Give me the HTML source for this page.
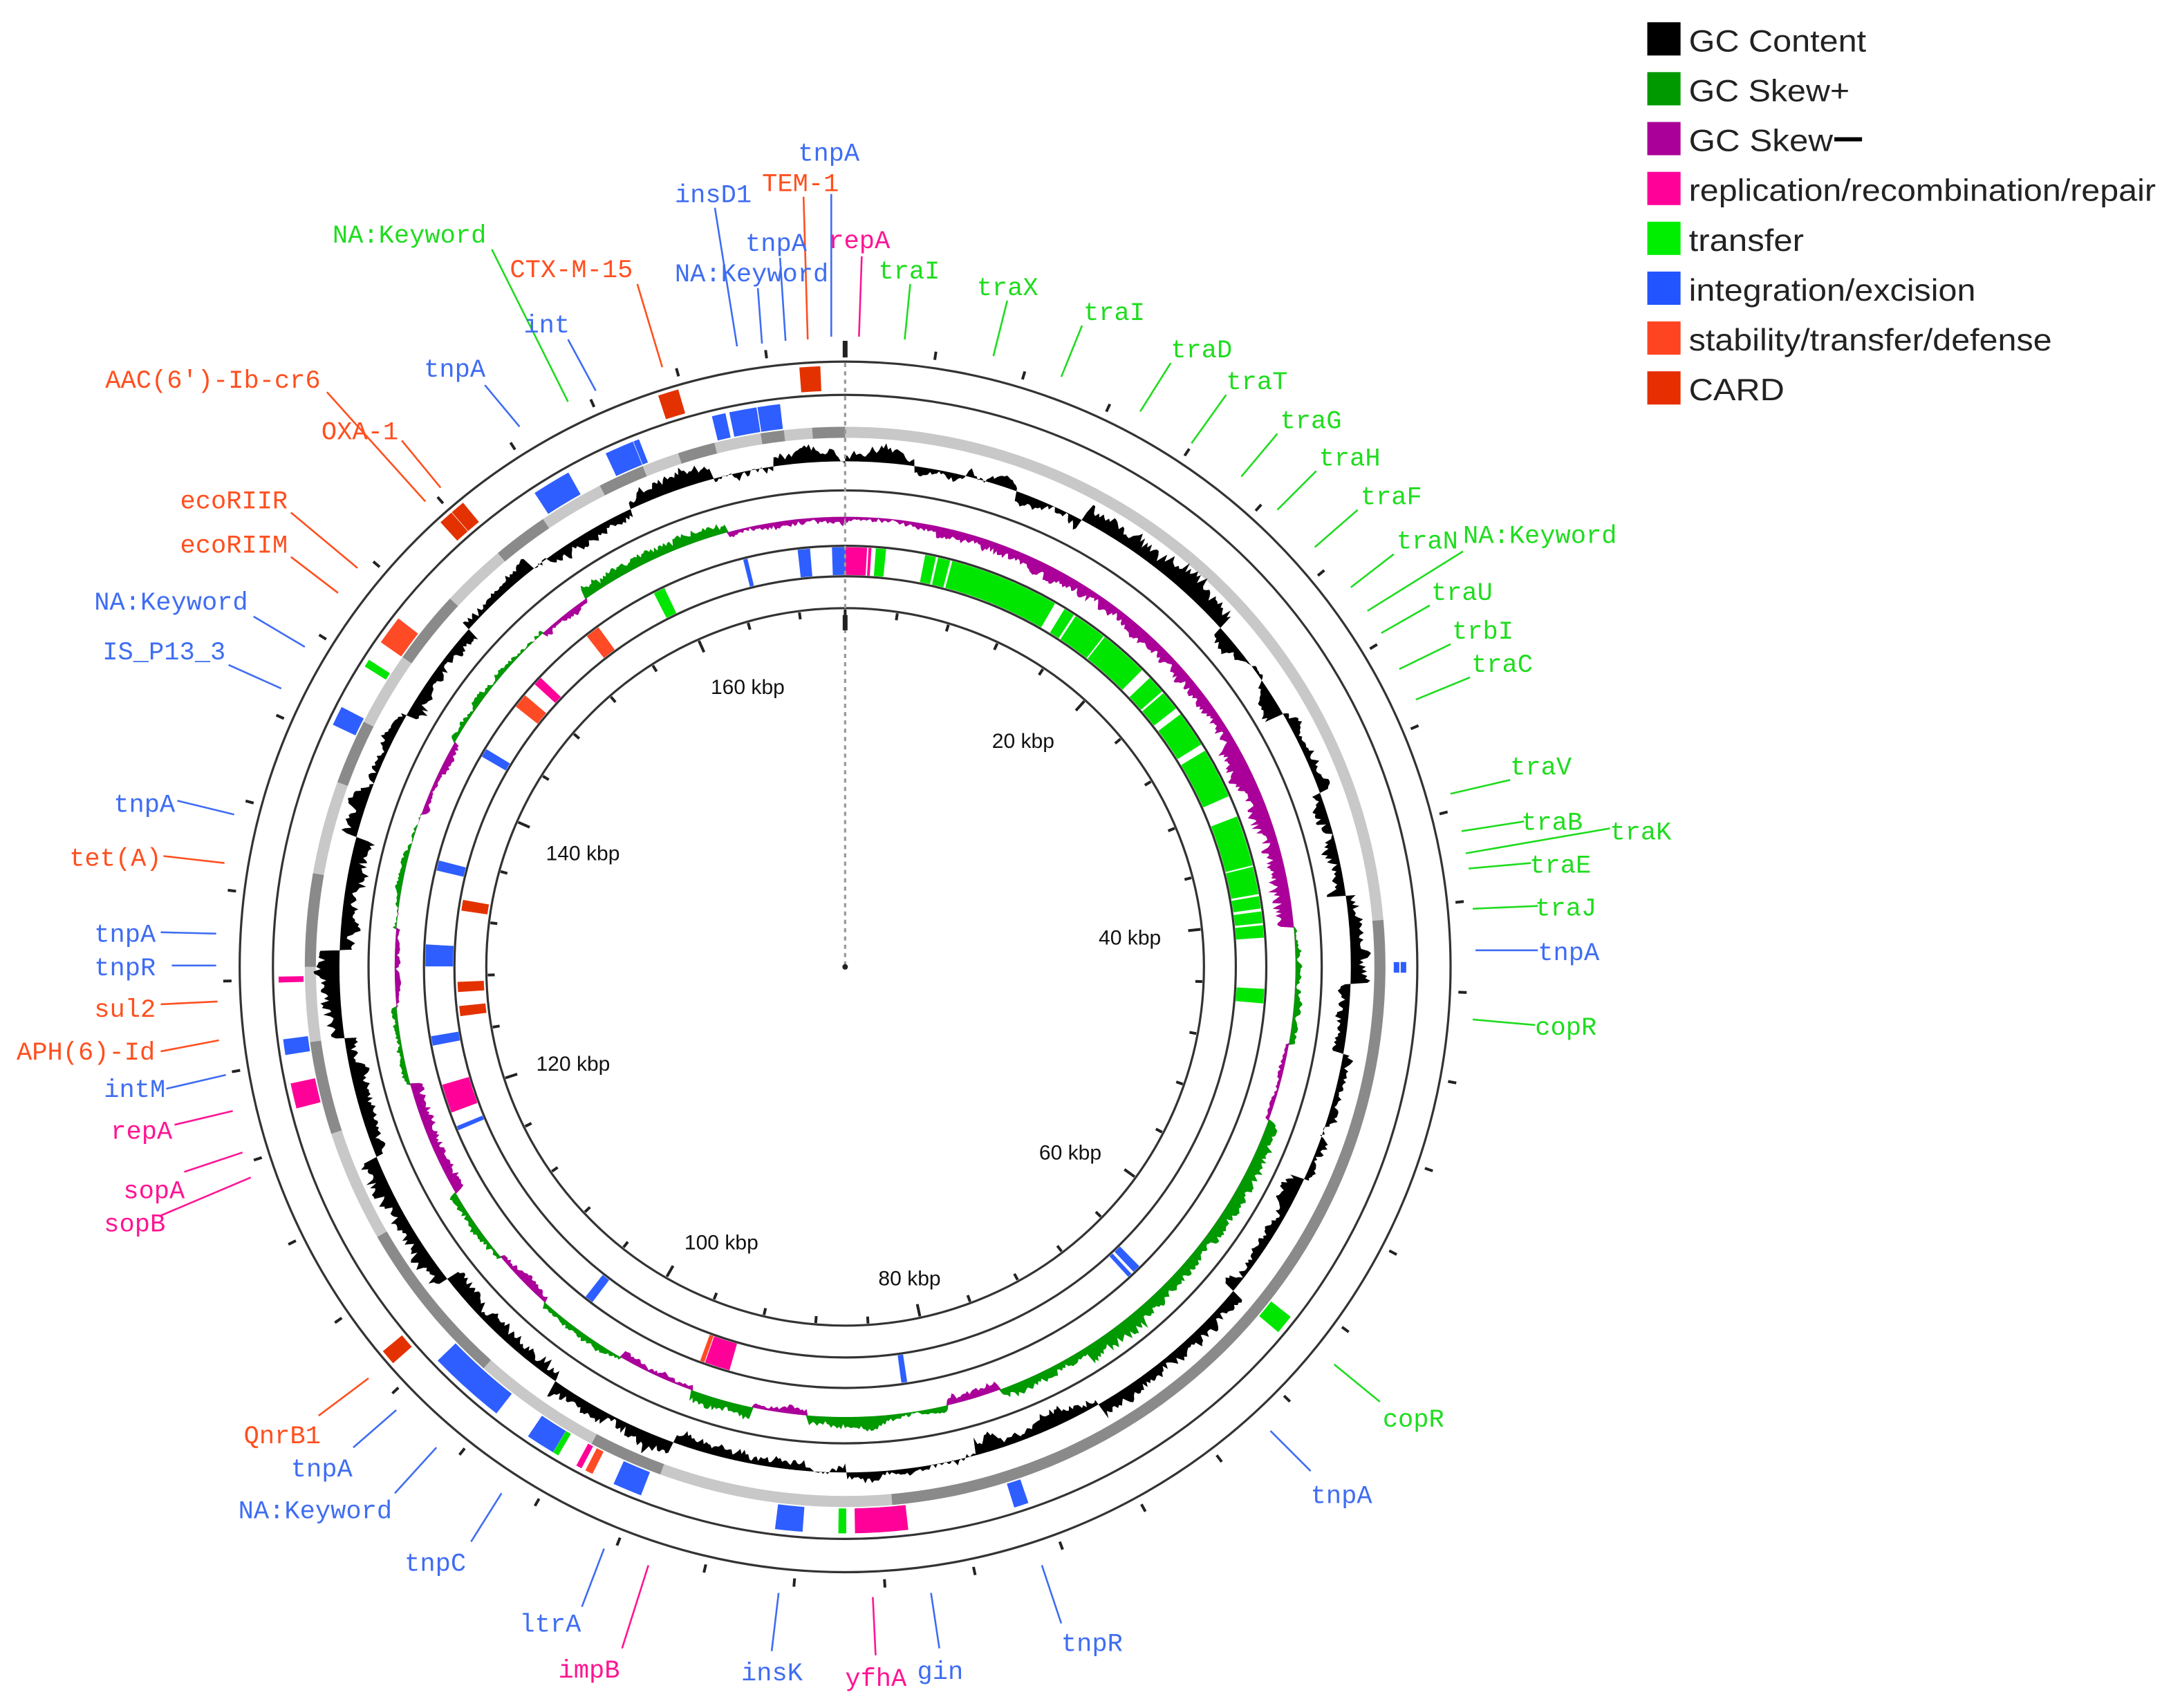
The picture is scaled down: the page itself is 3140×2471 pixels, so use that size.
<!DOCTYPE html>
<html><head><meta charset="utf-8"><style>
html,body{margin:0;padding:0;background:#fff}
svg{display:block}
.b{fill:#3f6df2}.g{fill:#1fdc1f}.o{fill:#ff4f1f}.p{fill:#ff1493}
.lb{stroke:#3f6df2}.lg{stroke:#1fdc1f}.lo{stroke:#ff4f1f}.lp{stroke:#ff1493}
line.l{stroke-width:1.3}
.k{font-family:"Liberation Sans",Arial,sans-serif;font-size:15px;fill:#111}
.lgd{font-family:"Liberation Sans",Arial,sans-serif;font-size:22px;fill:#222}
</style></head><body>
<svg id="s" xmlns="http://www.w3.org/2000/svg" width="3140" height="2471" viewBox="0 0 1567 1233">
<rect width="1567" height="1233" fill="#fff"/>
<g id="gfx"></g>
<g fill="none" stroke="#333" stroke-width="1.6">
<circle cx="610" cy="698" r="437"/><circle cx="610" cy="698" r="413"/>
<circle cx="610" cy="698" r="344"/><circle cx="610" cy="698" r="304"/>
<circle cx="610" cy="698" r="282"/><circle cx="610" cy="698" r="259"/>
</g>
<line x1="610" y1="262" x2="610" y2="698" stroke="#999" stroke-width="1.6" stroke-dasharray="3,3"/>
<circle cx="610" cy="698" r="2" fill="#222"/>
<g id="ticks" stroke="#222" stroke-width="2"></g>
<g class="k">
<text x="513" y="501">160 kbp</text><text x="716" y="540">20 kbp</text>
<text x="394" y="621">140 kbp</text><text x="793" y="682">40 kbp</text>
<text x="387" y="773">120 kbp</text><text x="750" y="837">60 kbp</text>
<text x="494" y="902">100 kbp</text><text x="634" y="928">80 kbp</text>
</g>
<g id="lbl"></g>
<g font-family="Liberation Mono, DejaVu Sans Mono, monospace" font-size="18.5">
<g fill="#3f6df2">
<text x="576" y="116">tnpA</text><text x="487" y="146">insD1</text><text x="538" y="181">tnpA</text><text x="487" y="203">NA:Keyword</text>
<text x="1110" y="693">tnpA</text><text x="946" y="1085">tnpA</text><text x="766" y="1192">tnpR</text><text x="662" y="1212">gin</text>
<text x="535" y="1213">insK</text><text x="375" y="1178">ltrA</text><text x="292" y="1134">tnpC</text><text x="172" y="1096">NA:Keyword</text>
<text x="210" y="1066">tnpA</text><text x="75" y="792">intM</text><text x="68" y="704">tnpR</text><text x="68" y="680">tnpA</text>
<text x="82" y="586">tnpA</text><text x="74" y="476">IS_P13_3</text><text x="68" y="440">NA:Keyword</text><text x="306" y="272">tnpA</text><text x="378" y="240">int</text>
</g>
<g fill="#1fdc1f">
<text x="634" y="201">traI</text><text x="705" y="213">traX</text><text x="782" y="231">traI</text><text x="845" y="258">traD</text>
<text x="885" y="281">traT</text><text x="924" y="309">traG</text><text x="952" y="336">traH</text><text x="982" y="364">traF</text>
<text x="1008" y="396">traN</text><text x="1056" y="392">NA:Keyword</text><text x="1033" y="433">traU</text><text x="1048" y="461">trbI</text>
<text x="1062" y="485">traC</text><text x="1090" y="559">traV</text><text x="1098" y="599">traB</text><text x="1162" y="606">traK</text>
<text x="1104" y="630">traE</text><text x="1108" y="661">traJ</text><text x="1108" y="747">copR</text><text x="998" y="1030">copR</text>
<text x="240" y="175">NA:Keyword</text>
</g>
<g fill="#ff4f1f">
<text x="550" y="138">TEM-1</text><text x="176" y="1042">QnrB1</text><text x="12" y="765">APH(6)-Id</text><text x="68" y="734">sul2</text>
<text x="50" y="625">tet(A)</text><text x="130" y="399">ecoRIIM</text><text x="130" y="367">ecoRIIR</text><text x="232" y="317">OXA-1</text>
<text x="76" y="280">AAC(6')-Ib-cr6</text><text x="368" y="200">CTX-M-15</text>
</g>
<g fill="#ff1493">
<text x="598" y="179">repA</text><text x="610" y="1217">yfhA</text><text x="403" y="1211">impB</text><text x="75" y="889">sopB</text>
<text x="89" y="865">sopA</text><text x="80" y="822">repA</text>
</g>
</g>
<g>
<rect x="1189" y="16" width="24" height="24" fill="#000"/>
<rect x="1189" y="52" width="24" height="24" fill="#009900"/>
<rect x="1189" y="88" width="24" height="24" fill="#aa0099"/>
<rect x="1189" y="124" width="24" height="24" fill="#ff0099"/>
<rect x="1189" y="160" width="24" height="24" fill="#00ee00"/>
<rect x="1189" y="196" width="24" height="24" fill="#2255ff"/>
<rect x="1189" y="232" width="24" height="24" fill="#ff4422"/>
<rect x="1189" y="268" width="24" height="24" fill="#e62e00"/>
<text class="lgd" x="1219" y="37" textLength="128" lengthAdjust="spacingAndGlyphs">GC Content</text>
<text class="lgd" x="1219" y="73" textLength="116" lengthAdjust="spacingAndGlyphs">GC Skew+</text>
<text class="lgd" x="1219" y="109" textLength="104" lengthAdjust="spacingAndGlyphs">GC Skew</text>
<rect x="1324" y="99" width="20" height="3" fill="#000"/>
<text class="lgd" x="1219" y="145" textLength="337" lengthAdjust="spacingAndGlyphs">replication/recombination/repair</text>
<text class="lgd" x="1219" y="181" textLength="83" lengthAdjust="spacingAndGlyphs">transfer</text>
<text class="lgd" x="1219" y="217" textLength="207" lengthAdjust="spacingAndGlyphs">integration/excision</text>
<text class="lgd" x="1219" y="253" textLength="262" lengthAdjust="spacingAndGlyphs">stability/transfer/defense</text>
<text class="lgd" x="1219" y="289" textLength="69" lengthAdjust="spacingAndGlyphs">CARD</text>
</g>
</svg>
<script>
(function(){
var NS="http://www.w3.org/2000/svg",CX=610,CY=698;
function el(t,a,p){var e=document.createElementNS(NS,t);for(var k in a)e.setAttribute(k,a[k]);p.appendChild(e);return e;}
function pt(r,d){var a=d*Math.PI/180;return (CX+r*Math.sin(a)).toFixed(2)+","+(CY-r*Math.cos(a)).toFixed(2);}
function sec(r1,r2,a1,a2){var L=(a2-a1)>180?1:0;return "M"+pt(r2,a1)+"A"+r2+","+r2+" 0 "+L+" 1 "+pt(r2,a2)+"L"+pt(r1,a2)+"A"+r1+","+r1+" 0 "+L+" 0 "+pt(r1,a1)+"Z";}
function ang(x,y){var a=Math.atan2(x-CX,CY-y)*180/Math.PI;return a<0?a+360:a;}
var G=document.getElementById("gfx");
var LG="#c8c8c8",DG="#8a8a8a";
var cs=[[0,85,LG],[85,175,DG],[175,200,LG],[200,208,DG],[208,222,LG],[222,240,DG],[240,252,LG],[252,262,DG],[262,270,LG],[270,280,DG],[280,290,LG],[290,297,DG],[297,305,LG],[305,313,DG],[313,320,LG],[320,326,DG],[326,333,LG],[333,338,DG],[338,342,LG],[342,346,DG],[346,351,LG],[351,353.5,DG],[353.5,356.5,LG],[356.5,360,DG]];
cs.forEach(function(c){el("path",{d:sec(382,390,c[0],c[1]),fill:c[2]},G);});
var s=12345;function R(){s=(s*16807)%2147483647;return s/2147483647;}
function prof(segs,d){for(var i=0;i<segs.length;i++){if(d>=segs[i][0]&&d<segs[i][1])return segs[i][2];}return 0;}
var gcs=[[0,8,0.4],[8,14,-0.3],[14,20,0.2],[20,28,-0.5],[28,48,0.9],[48,60,-0.4],[60,70,0.5],[70,82,-0.7],[82,92,0.8],[92,100,-0.5],[100,115,0.4],[115,130,-0.6],[130,150,0.5],[150,165,-0.6],[165,180,0.3],[180,200,-0.4],[200,215,0.6],[215,232,-0.7],[232,248,0.8],[248,262,-0.5],[262,272,0.9],[272,285,-0.8],[285,300,0.5],[300,312,-0.6],[312,322,0.5],[322,335,-0.4],[335,345,0.5],[345,352,-0.3],[352,360,0.5]];
var sk=[[0,12,-0.25],[12,25,-0.45],[25,60,-0.6],[60,85,-0.9],[85,100,0.3],[100,110,-0.15],[110,140,0.6],[140,148,0.9],[148,160,0.5],[160,167,-0.5],[167,175,0.2],[175,185,0.5],[185,192,-0.3],[192,200,0.5],[200,210,-0.3],[210,222,0.35],[222,230,-0.3],[230,240,0.35],[240,255,-0.55],[255,265,0.25],[265,275,-0.2],[275,290,0.2],[290,300,-0.3],[300,318,0.3],[318,325,-0.25],[325,345,0.55],[345,350,-0.25],[350,360,-0.4]];
function area(r0,A,segs,mode,col,nz){
 var n=1440,pts=[],w=0;
 for(var i=0;i<=n;i++){var d=i*360/n;w=w*0.85+(R()-0.5)*0.9;var v=prof(segs,d)*(0.5+0.5*R())+w*nz;
  if(mode==1)v=Math.max(v,0);if(mode==-1)v=Math.min(v,0);
  v=Math.max(-1.2,Math.min(1.2,v));pts.push(pt(r0+v*A,d));}
 var dd="M"+pts.join("L")+"L"+pt(r0,360)+"A"+r0+","+r0+" 0 1 0 "+pt(r0,180)+"A"+r0+","+r0+" 0 1 0 "+pt(r0,0.001)+"Z";
 el("path",{d:dd,fill:col},G);
}
area(365,17,gcs,0,"#000",0.3);
s=777;area(325,16,sk,1,"#009900",0.15);
s=777;area(325,16,sk,-1,"#aa0099",0.15);
var B="#2e5eff",GR="#00e600",P="#ff0099",O="#ff4a26",C="#e33200";
function F(r1,r2,x,y,w,c){var a=ang(x,y);el("path",{d:sec(r1,r2,a-w/2,a+w/2),fill:c},G);}
function Fa(r1,r2,a1,a2,c){el("path",{d:sec(r1,r2,a1,a2),fill:c},G);}
var o1=391,o2=409;
Fa(o1,o2,-13.6,-12.2,B);Fa(o1,o2,-11.8,-9,B);Fa(o1,o2,-8.9,-6.6,B);
[[450,330,3,B],[462,325,0.6,B],[402,355,4,B],[288,460,3,O],[270,482,0.8,GR],[250,520,2,B],[208,707,0.6,P],[212,755,1.6,B],[217,790,2.6,P],[341,997,8,B],[395,1035,3,B],[405,1043,0.6,GR],[420,1055,0.6,P],[428,1057,0.8,O],[455,1070,3,B],[570,1098,2.8,B],[608,1100,0.8,GR],[636,1100,5.4,P],[735,1080,1.5,B],[922,952,2,GR]].forEach(function(f){F(o1,o2,f[0],f[1],f[2],f[3]);});
Fa(396,400,89.5,90.6,B);Fa(401,405,89.5,90.6,B);
[[585,273,2,C],[485,292,2,C],[325,377,1.4,C],[335,372,1.4,C],[288,973,1.5,C]].forEach(function(f){F(416,434,f[0],f[1],f[2],f[3]);});
var i1=283,i2=303;
Fa(i1,i2,-6.5,-4.8,B);Fa(i1,i2,-1.8,0,B);Fa(i1,i2,0,3,P);Fa(i1,i2,3.2,3.6,P);Fa(i1,i2,4.2,5.6,GR);
[[11,12.5],[12.8,14.5],[14.8,30],[31.5,33],[33.3,38],[38.2,45],[46.5,49],[49.3,52],[53,58],[59,66],[69,76],[76.2,80],[80.3,82],[82.4,84],[84.3,86],[93,95]].forEach(function(g){Fa(i1,i2,g[0],g[1],GR);});
Fa(i1,i2,135.5,136.6,B);Fa(i1,i2,137,137.6,B);Fa(i1,i2,171.5,172.3,B);
Fa(i1,i2,196,199.5,P);Fa(i1,i2,199.6,200.2,O);Fa(i1,i2,217,218.2,B);
[[332,790,4,P],[341,810,0.6,B],[320,750,1.3,B],[318,690,3,B],[325,627,1.4,B],[357,548,1.2,B],[383,512,2,O],[395,498,1.2,P],[433,463,2,O],[480,435,1.6,GR],[540,412,0.6,B]].forEach(function(f){F(i1,i2,f[0],f[1],f[2],f[3]);});
[[340,712,1.5,C],[340,729,1.5,C],[343,655,1.6,C]].forEach(function(f){F(261,280,f[0],f[1],f[2],f[3]);});
var T=document.getElementById("ticks"),kb=360/171.5;
for(var k=0;k<171;k+=4){var a=k*kb;var p1=pt(443,a).split(","),p2=pt(449,a).split(",");el("line",{x1:p1[0],y1:p1[1],x2:p2[0],y2:p2[1]},T);}
for(var k=0;k<171;k+=4){var a=k*kb;var big=(k%20==0);var p1=pt(258,a).split(","),p2=pt(big?249:253,a).split(",");el("line",{x1:p1[0],y1:p1[1],x2:p2[0],y2:p2[1]},T);}
el("line",{x1:610,y1:246,x2:610,y2:258,"stroke-width":3.5},T);el("line",{x1:610,y1:444,x2:610,y2:455,"stroke-width":3.5},T);
var L=document.getElementById("lbl");
var d=[
["b",600,140,600,243],["b",516,150,532,250],["o",580,142,583,245],["b",563,186,567,246],["b",547,208,550,248],["p",622,185,620,243],
["g",657,205,653,245],["g",727,217,717,257],["g",781,235,766,272],["g",845,262,823,297],["g",885,285,860,320],["g",922,313,896,344],
["g",950,340,922,368],["g",980,368,949,395],["g",1006,400,975,424],["g",1056,398,987,441],["g",1032,437,997,457],["g",1047,465,1010,483],
["g",1061,489,1022,505],["g",1090,563,1047,573],["g",1100,593,1055,600],["g",1162,598,1058,616],["g",1105,623,1060,627],["g",1110,654,1063,656],
["b",1110,686,1065,686],["g",1108,740,1063,736],["g",996,1012,963,985],["b",946,1062,917,1033],["b",766,1172,752,1130],["b",678,1190,672,1150],
["p",632,1195,630,1153],["b",557,1192,562,1150],["p",449,1190,468,1130],["b",420,1160,436,1118],["b",340,1113,362,1078],["b",285,1078,315,1045],
["b",255,1045,286,1018],["o",230,1022,266,995],["p",115,878,181,850],["p",133,846,175,832],["p",126,812,168,802],["b",120,786,163,776],
["o",116,759,158,751],["o",116,725,157,723],["b",124,697,156,697],["b",116,673,156,674],["o",118,618,162,623],["b",128,578,169,588],
["b",165,480,203,497],["b",183,445,220,467],["o",210,402,244,428],["o",210,370,258,410],["o",290,318,318,352],["o",236,283,307,362],
["b",350,278,375,308],["b",410,245,430,282],["g",355,180,410,290],["o",460,205,478,265]
];
d.forEach(function(r){el("line",{x1:r[1],y1:r[2],x2:r[3],y2:r[4],"class":"l l"+r[0]},L);});
})();
</script>
</body></html>
